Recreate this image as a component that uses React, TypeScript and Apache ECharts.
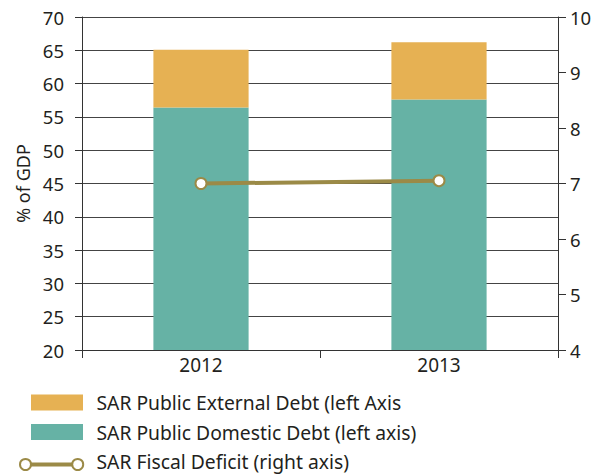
import React, { useEffect, useRef } from "react";
import * as echarts from "echarts";

const categories = ["2012", "2013"];
const domesticDebt = [56.4, 57.6];
const externalDebt = [8.7, 8.6];
const fiscalDeficit = [7.0, 7.05];

const NAME_EXT = "SAR Public External Debt (left Axis";
const NAME_DOM = "SAR Public Domestic Debt (left axis)";
const NAME_FIS = "SAR Fiscal Deficit (right axis)";

const FONT = "Noto Sans";
const TXT = "#231f20";
const GOLD = "#9b8a47";

export default function App() {
  const ref = useRef<HTMLDivElement>(null);
  useEffect(() => {
    if (!ref.current) return;
    const chart = echarts.init(ref.current, undefined, { renderer: "svg" });
    chart.setOption({
      animation: false,
      textStyle: { fontFamily: FONT, color: TXT },
      grid: { left: 82, right: 41, top: 17, bottom: 126 },
      legend: {
        orient: "vertical",
        left: 26,
        top: 388,
        height: 120,
        itemWidth: 52,
        itemHeight: 16,
        itemGap: 10.5,
        textStyle: { fontFamily: FONT, fontSize: 19.3, color: TXT, padding: [0, 0, 0, 8.5] },
        data: [
          { name: NAME_EXT, icon: "rect" },
          { name: NAME_DOM, icon: "rect" },
          { name: NAME_FIS, icon: "none" },
        ],
      },
      graphic: [
        {
          type: "line",
          shape: { x1: 26, y1: 464.5, x2: 78, y2: 464.5 },
          style: { stroke: GOLD, lineWidth: 4 },
        },
        {
          type: "circle",
          shape: { cx: 25.5, cy: 464.5, r: 5.5 },
          style: { fill: "#fff", stroke: GOLD, lineWidth: 2 },
        },
        {
          type: "circle",
          shape: { cx: 77.7, cy: 464.5, r: 5.5 },
          style: { fill: "#fff", stroke: GOLD, lineWidth: 2 },
        },
      ],
      xAxis: {
        type: "category",
        data: categories,
        boundaryGap: true,
        axisLine: { lineStyle: { color: "#333", width: 1 } },
        axisTick: { show: true, length: 8, lineStyle: { color: "#333" } },
        axisLabel: { fontFamily: FONT, fontSize: 19, color: TXT, margin: 5 },
      },
      yAxis: [
        {
          type: "value",
          min: 20,
          max: 70,
          interval: 5,
          name: "% of GDP",
          nameLocation: "middle",
          nameGap: 47,
          nameRotate: 90,
          nameTextStyle: { fontFamily: FONT, fontSize: 18, color: TXT },
          axisLine: { show: true, lineStyle: { color: "#333" } },
          axisTick: { show: true, length: 7, lineStyle: { color: "#333" } },
          axisLabel: { fontFamily: FONT, fontSize: 18.5, color: TXT, margin: 18 },
          splitLine: { show: true, lineStyle: { color: "#444", width: 1 } },
        },
        {
          type: "value",
          min: 4,
          max: 10,
          interval: 1,
          position: "right",
          axisLine: { show: true, lineStyle: { color: "#333" } },
          axisTick: { show: true, length: 8, lineStyle: { color: "#333" } },
          axisLabel: { fontFamily: FONT, fontSize: 18.5, color: TXT, margin: 12 },
          splitLine: { show: false },
        },
      ],
      series: [
        {
          name: NAME_DOM,
          type: "bar",
          stack: "debt",
          barWidth: "40%",
          itemStyle: { color: "#66b2a5" },
          data: domesticDebt,
        },
        {
          name: NAME_EXT,
          type: "bar",
          stack: "debt",
          barWidth: "40%",
          itemStyle: { color: "#e6b153" },
          data: externalDebt,
        },
        {
          name: NAME_FIS,
          type: "line",
          yAxisIndex: 1,
          symbol: "circle",
          symbolSize: 11,
          lineStyle: { color: GOLD, width: 4 },
          itemStyle: { color: "#fff", borderColor: GOLD, borderWidth: 2 },
          data: fiscalDeficit,
          z: 5,
        },
      ],
    });
    return () => chart.dispose();
  }, []);
  return (
    <div
      ref={ref}
      style={{ position: "absolute", left: 0, top: 0, width: 599, height: 476 }}
    />
  );
}
